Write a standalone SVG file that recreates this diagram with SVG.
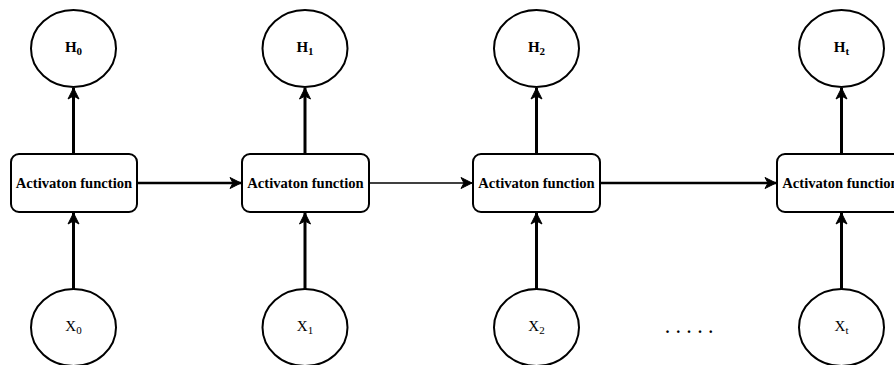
<svg xmlns="http://www.w3.org/2000/svg" width="894" height="365" viewBox="0 0 894 365">
  <defs>
    <style>
      .state { fill: #ffffff; stroke: #000000; stroke-width: 2; }
      .cell { fill: #ffffff; stroke: #000000; stroke-width: 2; }
      .cell-label { font-family: "Liberation Serif", "DejaVu Serif", serif; font-weight: bold; font-size: 14.6px; fill: #000000; text-anchor: middle; }
      .h-label { font-family: "Liberation Serif", "DejaVu Serif", serif; font-weight: bold; font-size: 15px; fill: #000000; text-anchor: middle; }
      .x-label { font-family: "Liberation Serif", "DejaVu Serif", serif; font-size: 15px; fill: #000000; text-anchor: middle; }
      .sub { font-size: 11px; }
      .dots { font-family: "Liberation Serif", "DejaVu Serif", serif; font-weight: bold; font-size: 16px; fill: #000000; }
      .edge { fill: none; stroke: #000000; }
      .thick { stroke-width: 3; }
      .mid { stroke-width: 2.5; }
      .thin { stroke-width: 1.5; }
    </style>
    <marker id="arrow" markerUnits="userSpaceOnUse" markerWidth="14" markerHeight="14" viewBox="0 0 14 14" refX="12" refY="7" orient="auto">
      <path d="M1,1.5 L12,7 L1,12.5 L4,7 Z" fill="#000000" stroke="#000000" stroke-width="1"/>
    </marker>
  </defs>

  <g id="connectors">
    <!-- inputs into cells -->
    <line class="edge thick" x1="73.5" y1="289" x2="73.5" y2="213" marker-end="url(#arrow)"/>
    <line class="edge thick" x1="305" y1="289" x2="305" y2="213" marker-end="url(#arrow)"/>
    <line class="edge thick" x1="536.5" y1="289" x2="536.5" y2="213" marker-end="url(#arrow)"/>
    <line class="edge thick" x1="841.5" y1="289" x2="841.5" y2="213" marker-end="url(#arrow)"/>
    <!-- cells to outputs -->
    <line class="edge thick" x1="73.5" y1="154" x2="73.5" y2="88" marker-end="url(#arrow)"/>
    <line class="edge thick" x1="305" y1="154" x2="305" y2="88" marker-end="url(#arrow)"/>
    <line class="edge thick" x1="536.5" y1="154" x2="536.5" y2="88" marker-end="url(#arrow)"/>
    <line class="edge thick" x1="841.5" y1="154" x2="841.5" y2="88" marker-end="url(#arrow)"/>
    <!-- recurrent links -->
    <line class="edge mid" x1="137" y1="183" x2="241" y2="183" marker-end="url(#arrow)"/>
    <line class="edge thin" x1="369" y1="183" x2="472" y2="183" marker-end="url(#arrow)"/>
    <line class="edge mid" x1="600" y1="183" x2="776" y2="183" marker-end="url(#arrow)"/>
  </g>

  <g id="cell-0">
    <rect class="cell" x="11" y="154" width="126" height="58" rx="8" ry="8"/>
    <text class="cell-label" x="74" y="188">Activaton function</text>
  </g>
  <g id="cell-1">
    <rect class="cell" x="242" y="154" width="127" height="58" rx="8" ry="8"/>
    <text class="cell-label" x="305.5" y="188">Activaton function</text>
  </g>
  <g id="cell-2">
    <rect class="cell" x="473" y="154" width="127" height="58" rx="8" ry="8"/>
    <text class="cell-label" x="536.5" y="188">Activaton function</text>
  </g>
  <g id="cell-t">
    <rect class="cell" x="777" y="154" width="127" height="58" rx="8" ry="8"/>
    <text class="cell-label" x="840.5" y="188">Activaton function</text>
  </g>

  <g id="h-0">
    <ellipse class="state" cx="73.5" cy="48.5" rx="42.5" ry="38.5"/>
    <text class="h-label" x="73.5" y="52">H<tspan class="sub" dy="3">0</tspan></text>
  </g>
  <g id="h-1">
    <ellipse class="state" cx="305" cy="48.5" rx="42.5" ry="38.5"/>
    <text class="h-label" x="305" y="52">H<tspan class="sub" dy="3">1</tspan></text>
  </g>
  <g id="h-2">
    <ellipse class="state" cx="536.5" cy="48.5" rx="42.5" ry="38.5"/>
    <text class="h-label" x="536.5" y="52">H<tspan class="sub" dy="3">2</tspan></text>
  </g>
  <g id="h-t">
    <ellipse class="state" cx="841.5" cy="48.5" rx="42.5" ry="38.5"/>
    <text class="h-label" x="841.5" y="52">H<tspan class="sub" dy="3">t</tspan></text>
  </g>

  <g id="x-0">
    <ellipse class="state" cx="73.5" cy="327.5" rx="42.5" ry="38.5"/>
    <text class="x-label" x="73.5" y="331">X<tspan class="sub" dy="3">0</tspan></text>
  </g>
  <g id="x-1">
    <ellipse class="state" cx="305" cy="327.5" rx="42.5" ry="38.5"/>
    <text class="x-label" x="305" y="331">X<tspan class="sub" dy="3">1</tspan></text>
  </g>
  <g id="x-2">
    <ellipse class="state" cx="536.5" cy="327.5" rx="42.5" ry="38.5"/>
    <text class="x-label" x="536.5" y="331">X<tspan class="sub" dy="3">2</tspan></text>
  </g>
  <g id="x-t">
    <ellipse class="state" cx="841.5" cy="327.5" rx="42.5" ry="38.5"/>
    <text class="x-label" x="841.5" y="331">X<tspan class="sub" dy="3">t</tspan></text>
  </g>

  <g id="ellipsis">
    <text class="dots" x="665.5" y="333" letter-spacing="6.8">.....</text>
  </g>
</svg>
